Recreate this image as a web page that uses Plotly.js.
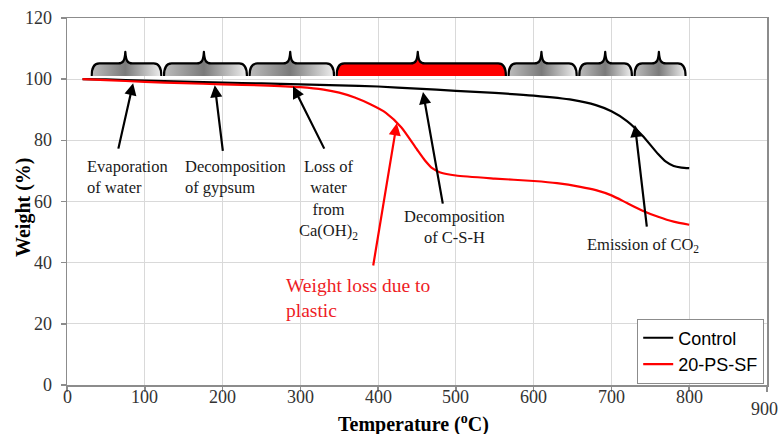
<!DOCTYPE html>
<html>
<head>
<meta charset="utf-8">
<script src="https://cdn.plot.ly/plotly-3.0.1.min.js"></script>
<style>html,body{margin:0;padding:0;background:#fff;}#chart{width:779px;height:434px;}</style>
</head>
<body>
<div id="chart"></div>
<script>
// ---- data ----
const controlTemp = [20, 50, 100, 150, 200, 250, 300, 350, 400, 450, 500, 550, 600, 650, 680, 700, 720, 740, 760, 770, 780, 790, 800];
const controlWeight = [100, 99.9, 99.5, 99.2, 98.9, 98.6, 98.3, 98.0, 97.6, 96.9, 96.2, 95.5, 94.6, 93.2, 91.5, 89.5, 86.3, 81.5, 75.5, 73.0, 71.6, 71.1, 70.9];
const plasticTemp = [20, 50, 100, 150, 200, 250, 300, 330, 350, 370, 390, 410, 430, 450, 460, 470, 480, 500, 550, 600, 630, 660, 680, 700, 720, 740, 760, 780, 800];
const plasticWeight = [100, 99.7, 99.1, 98.7, 98.3, 98.0, 97.4, 96.6, 95.6, 94.0, 91.8, 89.0, 84.2, 77.0, 73.5, 70.8, 69.5, 68.5, 67.5, 66.7, 66.0, 64.8, 63.7, 62.0, 59.5, 57.0, 55.0, 53.4, 52.4];
const seriesNames = ['Control', '20-PS-SF'];
const xTicks = [0, 100, 200, 300, 400, 500, 600, 700, 800, 900];
const yTicks = [0, 20, 40, 60, 80, 100, 120];

// decomposition stage brackets (temperature ranges)
const phaseStart = [30, 123, 233, 345, 566, 657, 728];
const phaseEnd   = [123, 233, 345, 566, 657, 728, 797];
const phasePeak  = [75, 176, 287, 451, 610, 692, 761];
const phaseIsPlastic = [false, false, false, true, false, false, false];

// ---- layout helpers ----
const serif = '"Liberation Serif", "Times New Roman", serif';
const sans = '"Liberation Sans", Arial, sans-serif';
const plotW = 700, plotH = 367, xMax = 900;
const bracketTop = 109.6, bracketBottom = 101.0, bracketPx = 26;

function braceImage(i) {
  const w = (phaseEnd[i] - phaseStart[i]) * plotW / xMax;
  const h = bracketPx;
  const xm = (phasePeak[i] - phaseStart[i]) * plotW / xMax;
  const yh = 13.5, yp = 2;
  const top = `M1.3,${h} C1.3,${yh+5} 3,${yh} 9,${yh} L${xm-7},${yh} C${xm-2},${yh} ${xm-0.6},${yh-3} ${xm},${yp} C${xm+0.6},${yh-3} ${xm+2},${yh} ${xm+7},${yh} L${w-9},${yh} C${w-3},${yh} ${w-1.3},${yh+5} ${w-1.3},${h}`;
  const pf = (xm / w * 100).toFixed(1);
  const fill = phaseIsPlastic[i] ? '#ff0000' : 'url(#g)';
  const svg = `<svg xmlns="http://www.w3.org/2000/svg" width="${w}" height="${h}" viewBox="0 0 ${w} ${h}">` +
    `<defs><linearGradient id="g" x1="0" y1="0" x2="1" y2="0">` +
    `<stop offset="0%" stop-color="#bcbcbc"/><stop offset="${pf}%" stop-color="#7a7a7a"/><stop offset="100%" stop-color="#eeeeee"/>` +
    `</linearGradient></defs>` +
    `<path d="${top} Z" fill="${fill}" stroke="none"/>` +
    `<path d="${top}" fill="none" stroke="#000" stroke-width="2.2" stroke-linejoin="round"/>` +
    `</svg>`;
  return {
    source: 'data:image/svg+xml;charset=utf-8,' + encodeURIComponent(svg),
    xref: 'x', yref: 'y', x: phaseStart[i], y: bracketTop,
    sizex: phaseEnd[i] - phaseStart[i], sizey: bracketTop - bracketBottom,
    xanchor: 'left', yanchor: 'top', sizing: 'stretch', layer: 'above'
  };
}

const traces = [
  {x: controlTemp, y: controlWeight, name: seriesNames[0], type: 'scatter', mode: 'lines',
   line: {color: '#000000', width: 2.2, shape: 'spline', smoothing: 0.6}},
  {x: plasticTemp, y: plasticWeight, name: seriesNames[1], type: 'scatter', mode: 'lines',
   line: {color: '#ff0000', width: 2.2, shape: 'spline', smoothing: 0.6}}
];

function arrow(tipX, tipY, tailX, tailY, color) {
  return {x: tipX, y: tipY, ax: tailX, ay: tailY, xref: 'x', yref: 'y', axref: 'x', ayref: 'y',
    text: '', showarrow: true, arrowhead: 2, arrowsize: 1.1, arrowwidth: 2.2, arrowcolor: color, standoff: 0};
}
function label(x, y, text, xanchor, align, size, color) {
  return {x: x, y: y, xref: 'x', yref: 'y', text: text, showarrow: false, xanchor: xanchor, yanchor: 'middle',
    align: align, font: {family: serif, size: size || 16.5, color: color || '#1a1a1a'}};
}

function tickFont() { return {family: serif, size: 18, color: '#333333'}; }

// tick labels drawn as text at the axis values
const xTickLabels = xTicks.map(v => ({
  x: v === 900 ? 897 : v, xref: 'x', y: v === 900 ? -0.036 : -0.004, yref: 'paper', yanchor: 'top', xanchor: 'center',
  text: String(v), showarrow: false, font: tickFont(), borderpad: 0
}));
const yTickLabels = yTicks.map(v => ({
  x: -0.018, xref: 'paper', xanchor: 'right', y: v, yref: 'y', yanchor: 'middle',
  text: String(v), showarrow: false, font: tickFont()
}));

const annotations = [
  arrow(85, 98.7, 65.6, 76.8, '#000'),
  arrow(190, 98.0, 200.6, 76.1, '#000'),
  arrow(290.6, 97.7, 331.7, 76.8, '#000'),
  arrow(457.7, 95.8, 483.5, 58.8, '#000'),
  arrow(424, 85.6, 393.4, 38.6, '#ff0000'),
  arrow(730.2, 85.0, 745.7, 51.3, '#000'),
  label(23, 68, 'Evaporation<br>of water', 'left', 'left'),
  label(149, 68, 'Decomposition<br>of gypsum', 'left', 'left'),
  label(335.6, 60.5, 'Loss of<br>water<br>from<br>Ca(OH)<sub>2</sub>', 'center', 'center'),
  label(498.8, 51.8, 'Decomposition<br>of C-S-H', 'center', 'center'),
  label(279, 28.3, 'Weight loss due to<br>plastic', 'left', 'left', 19.5, '#ee1c25'),
  label(740.6, 45.8, 'Emission of CO<sub>2</sub>', 'center', 'center'),
  {x: -0.063, y: 0.485, xref: 'paper', yref: 'paper', text: '<b>Weight (%)</b>', showarrow: false, textangle: -90,
   xanchor: 'center', yanchor: 'middle', font: {family: serif, size: 20, color: '#000'}},
  {x: 0.495, y: -0.104, xref: 'paper', yref: 'paper', text: '<b>Temperature (<sup>o</sup>C)</b>', showarrow: false,
   xanchor: 'center', yanchor: 'middle', font: {family: serif, size: 20, color: '#000'}}
].concat(xTickLabels, yTickLabels);

const layout = {
  width: 779, height: 434,
  font: {family: serif, size: 18, color: '#333333'},
  margin: {l: 67, r: 12, t: 18, b: 49},
  paper_bgcolor: '#ffffff', plot_bgcolor: '#ffffff',
  showlegend: true,
  legend: {x: 0.996, y: 0.004, xanchor: 'right', yanchor: 'bottom', bgcolor: '#ffffff',
    bordercolor: '#8c8c8c', borderwidth: 1, font: {family: sans, size: 18, color: '#000'},
    tracegroupgap: 0, itemwidth: 30},
  xaxis: {range: [0, 900], tickmode: 'array', tickvals: xTicks, showticklabels: false,
    showgrid: true, gridcolor: '#d9d9d9', gridwidth: 1, zeroline: false,
    showline: true, linecolor: '#8c8c8c', linewidth: 1.5, mirror: true,
    ticks: 'outside', ticklen: 5, tickcolor: '#8c8c8c', tickwidth: 1.5},
  xaxis2: {range: [0, 900], overlaying: 'x', anchor: 'y', side: 'bottom', tickmode: 'array', tickvals: xTicks,
    showticklabels: false, showgrid: false, zeroline: false, showline: false,
    ticks: 'inside', ticklen: 4, tickcolor: '#8c8c8c', tickwidth: 1.5},
  yaxis: {range: [0, 120], tickmode: 'array', tickvals: yTicks, showticklabels: false,
    showgrid: true, gridcolor: '#d9d9d9', gridwidth: 1, zeroline: false,
    showline: true, linecolor: '#8c8c8c', linewidth: 1.5, mirror: true,
    ticks: 'outside', ticklen: 5, tickcolor: '#8c8c8c', tickwidth: 1.5},
  images: phaseStart.map((_, i) => braceImage(i)),
  annotations: annotations
};

Plotly.newPlot('chart', traces, layout, {displayModeBar: false, staticPlot: true});
</script>
</body>
</html>
